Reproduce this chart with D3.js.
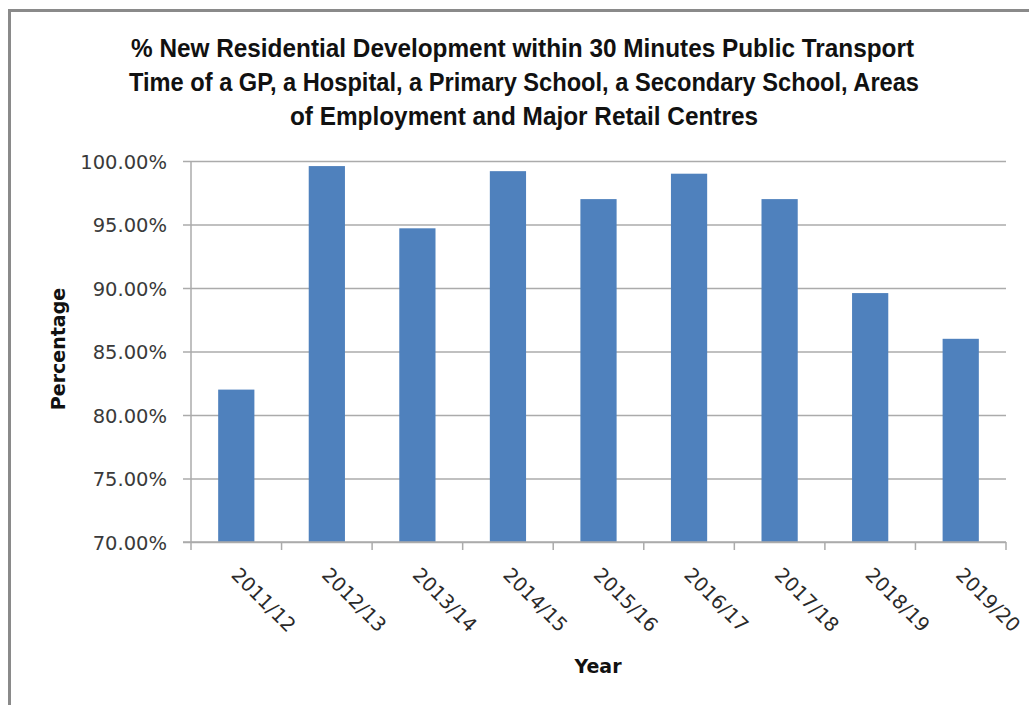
<!DOCTYPE html>
<html>
<head>
<meta charset="utf-8">
<script src="https://cdn.jsdelivr.net/npm/d3@7"></script>
<style>
  html, body { margin: 0; padding: 0; background: #fff; }
  svg { display: block; }
</style>
</head>
<body>
<svg id="chart" width="1029" height="705"></svg>
<script>
// Share of new residential development within 30 minutes of key services, by year
const categories = ["2011/12", "2012/13", "2013/14", "2014/15", "2015/16", "2016/17", "2017/18", "2018/19", "2019/20"];
const values = [82.0, 99.6, 94.7, 99.2, 97.0, 99.0, 97.0, 89.6, 86.0];
const yTicks = [70, 75, 80, 85, 90, 95, 100];
const titleLines = [
  "% New Residential Development within 30 Minutes Public Transport",
  "Time of a GP, a Hospital, a Primary School, a Secondary School, Areas",
  "of Employment and Major Retail Centres"
];
const yTitle = "Percentage";
const xTitle = "Year";

// Layout
const W = 1029, H = 705;
const plot = { left: 191, right: 1006, top: 161, bottom: 542 };
const titleLayout = [
  { cx: 522.5, y: 57, w: 783 },
  { cx: 524, y: 90.5, w: 790 },
  { cx: 524, y: 125, w: 468 }
];
const barColor = "#4f81bd";
const gridColor = "#ababab";
const textColor = "#3a3a3a";
const tickFont = "19.5px";

const svg = d3.select("#chart");

svg.append("rect").attr("width", W).attr("height", H).attr("fill", "#fff");

// Outer chart frame
svg.append("rect")
  .attr("x", 9.5).attr("y", 10.5)
  .attr("width", W + 50).attr("height", H + 50)
  .attr("fill", "none")
  .attr("stroke", "#8a8a8a")
  .attr("stroke-width", 3);

const x = d3.scaleBand()
  .domain(categories)
  .range([plot.left, plot.right])
  .paddingInner(0.6)
  .paddingOuter(0.3);

const y = d3.scaleLinear()
  .domain([70, 100])
  .range([plot.bottom, plot.top]);

// Horizontal gridlines with y tick labels
const yAxis = d3.axisLeft(y)
  .tickValues(yTicks)
  .tickSize(-(plot.right - plot.left) - 8)
  .tickFormat(d => d3.format(".2f")(d) + "%");

const gy = svg.append("g")
  .attr("transform", `translate(${plot.right},0)`)
  .call(yAxis);
gy.select(".domain").remove();
gy.selectAll(".tick line")
  .attr("x1", -(plot.right - plot.left) - 8)
  .attr("x2", 0)
  .attr("stroke", gridColor)
  .attr("stroke-width", 1.5);
gy.selectAll(".tick text")
  .attr("x", -(plot.right - plot.left) - 24)
  .attr("dy", "0.36em")
  .attr("text-anchor", "end")
  .attr("fill", textColor)
  .style("font-family", "'DejaVu Sans', sans-serif")
  .style("font-size", tickFont);

// Vertical axis line
svg.append("line")
  .attr("x1", plot.left).attr("x2", plot.left)
  .attr("y1", plot.top).attr("y2", plot.bottom)
  .attr("stroke", gridColor).attr("stroke-width", 1.5);

// Bars
svg.append("g")
  .selectAll("rect")
  .data(values)
  .join("rect")
  .attr("x", (d, i) => x(categories[i]))
  .attr("width", x.bandwidth())
  .attr("y", d => y(d))
  .attr("height", d => y(70) - y(d))
  .attr("fill", barColor);

// Category axis: baseline with ticks between categories
const gx = svg.append("g").attr("transform", `translate(0,${plot.bottom})`);
gx.append("line")
  .attr("x1", plot.left - 8).attr("x2", plot.right)
  .attr("stroke", gridColor).attr("stroke-width", 1.5);
const step = x.step();
const boundaries = d3.range(categories.length + 1).map(i => plot.left + i * step);
gx.selectAll("line.tick")
  .data(boundaries)
  .join("line")
  .attr("class", "tick")
  .attr("x1", d => d).attr("x2", d => d)
  .attr("y1", 0).attr("y2", 8)
  .attr("stroke", gridColor).attr("stroke-width", 1.5);

gx.selectAll("text")
  .data(categories)
  .join("text")
  .attr("transform", d => `translate(${x(d) + x.bandwidth() / 2 - 6},34) rotate(45)`)
  .attr("text-anchor", "start")
  .attr("fill", "#2a2a2a")
  .style("font-family", "'DejaVu Sans', sans-serif")
  .style("font-size", tickFont)
  .text(d => d);

// Axis titles
svg.append("text")
  .attr("transform", "translate(65,349) rotate(-90)")
  .attr("text-anchor", "middle")
  .attr("fill", "#111")
  .style("font-family", "'DejaVu Sans', sans-serif")
  .style("font-weight", "bold")
  .style("font-size", "19px")
  .text(yTitle);

svg.append("text")
  .attr("x", 598).attr("y", 673)
  .attr("text-anchor", "middle")
  .attr("fill", "#111")
  .style("font-family", "'DejaVu Sans', sans-serif")
  .style("font-weight", "bold")
  .style("font-size", "19px")
  .text(xTitle);

// Chart title
svg.append("g")
  .selectAll("text")
  .data(titleLines)
  .join("text")
  .attr("x", (d, i) => titleLayout[i].cx - titleLayout[i].w / 2)
  .attr("y", (d, i) => titleLayout[i].y)
  .attr("textLength", (d, i) => titleLayout[i].w)
  .attr("lengthAdjust", "spacingAndGlyphs")
  .attr("fill", "#111")
  .style("font-family", "'Liberation Sans Narrow', 'Liberation Sans', Arial, sans-serif")
  .style("font-weight", "bold")
  .style("font-size", "25px")
  .text(d => d);
</script>
</body>
</html>
